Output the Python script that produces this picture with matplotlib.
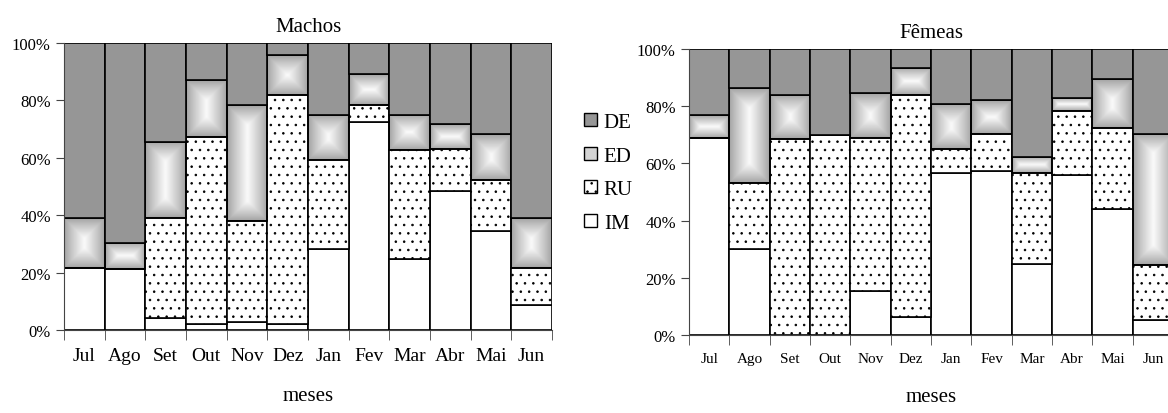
import numpy as np
import matplotlib
matplotlib.use('Agg')
import matplotlib.pyplot as plt
from matplotlib.patches import Patch
from matplotlib.ticker import FuncFormatter

plt.rcParams['font.family'] = ['Liberation Serif', 'DejaVu Serif']
plt.rcParams['hatch.linewidth'] = 0.6
plt.rcParams['hatch.color'] = '#333333'

meses = ['Jul', 'Ago', 'Set', 'Out', 'Nov', 'Dez', 'Jan', 'Fev', 'Mar', 'Abr', 'Mai', 'Jun']
estadios = ['DE', 'ED', 'RU', 'IM']

# percentagens por estadio (IM, RU, ED, DE somam 100)
machos_im = [21.6, 21.1, 4.2, 2.2, 2.8, 2.2, 28.2, 72.5, 24.9, 48.4, 34.6, 8.6]
machos_ru = [0.0, 0.0, 34.7, 65.2, 35.2, 79.7, 31.0, 5.9, 37.7, 14.7, 17.8, 13.0]
machos_ed = [17.3, 9.1, 26.5, 19.7, 40.4, 13.9, 15.8, 10.7, 12.4, 8.6, 15.9, 17.3]
machos_de = [61.1, 69.8, 34.6, 12.9, 21.6, 4.2, 25.0, 10.9, 25.0, 28.3, 31.7, 61.1]

femeas_im = [69.0, 30.0, 0.0, 0.0, 15.3, 6.3, 56.8, 57.4, 24.9, 55.9, 44.2, 5.4]
femeas_ru = [0.0, 23.3, 68.6, 69.9, 53.7, 77.6, 8.2, 13.0, 31.6, 22.5, 28.3, 19.0]
femeas_ed = [7.9, 33.2, 15.4, 0.0, 15.5, 9.6, 15.9, 11.6, 5.9, 4.6, 17.0, 46.0]
femeas_de = [23.1, 13.5, 16.0, 30.1, 15.5, 6.5, 19.1, 18.0, 37.6, 17.0, 10.5, 29.6]

W, H = 11.68, 4.14
fig = plt.figure(figsize=(W, H), dpi=100)

cor_de = '#969696'


def gradiente(ax, x0, y0, larg, alt, w_px, h_px):
    # preenchimento "do centro" tipo Excel: branco no meio, cinza nas bordas
    ny = max(int(h_px), 2)
    nx = max(int(w_px), 2)
    yy = (np.arange(ny) + 0.5) / ny * h_px
    xx = (np.arange(nx) + 0.5) / nx * w_px
    X, Y = np.meshgrid(xx, yy)
    d = np.minimum(np.minimum(X, w_px - X), np.minimum(Y, h_px - Y))
    t = d / (min(w_px, h_px) / 2.0)
    val = 0.63 + 0.35 * np.clip(t, 0, 1) ** 0.9
    ax.imshow(val, extent=(x0, x0 + larg, y0, y0 + alt), origin='lower',
              cmap='gray', vmin=0, vmax=1, aspect='auto',
              interpolation='bilinear', zorder=1)


def grafico(ax, im, ru, ed, de, titulo, fs_x, fs_y):
    x = np.arange(len(meses))
    bb = ax.get_position()
    px_x = bb.width * W * 100 / len(meses)
    px_y = bb.height * H * 100 / 100.0
    base = np.zeros(len(meses))
    ax.bar(x, im, 1.0, bottom=base, color='white', edgecolor='black', linewidth=1.2, zorder=2)
    base = base + np.array(im)
    ax.bar(x, ru, 1.0, bottom=base, color='white', edgecolor='black', hatch='..',
           linewidth=1.2, zorder=2)
    for i in range(len(meses)):
        if ed[i] > 0:
            gradiente(ax, x[i] - 0.5, base[i] + ru[i], 1.0, ed[i], px_x, ed[i] * px_y)
    base = base + np.array(ru)
    ax.bar(x, ed, 1.0, bottom=base, color='none', edgecolor='black', linewidth=1.2, zorder=2)
    base = base + np.array(ed)
    ax.bar(x, de, 1.0, bottom=base, color=cor_de, edgecolor='black', linewidth=1.2, zorder=2)

    ax.set_xlim(-0.5, len(meses) - 0.5)
    ax.set_ylim(0, 100)
    ax.set_yticks(range(0, 101, 20))
    ax.yaxis.set_major_formatter(FuncFormatter(lambda v, p: '%d%%' % v))
    ax.set_xticks(x)
    ax.set_xticklabels(meses, fontsize=fs_x)
    ax.set_xticks(np.arange(-0.5, len(meses)), minor=True)
    ax.tick_params(axis='x', which='major', length=0, pad=12)
    ax.tick_params(axis='x', which='minor', length=7, direction='out', color='#444444')
    ax.tick_params(axis='y', length=6, direction='out', labelsize=fs_y, color='#444444')
    for s in ['top', 'right']:
        ax.spines[s].set_visible(False)
    ax.spines['left'].set_color('#444444')
    ax.spines['bottom'].set_color('#444444')
    ax.set_title(titulo, fontsize=15, pad=9)
    ax.set_xlabel('meses', fontsize=15, labelpad=16)


ax1 = fig.add_axes([0.0548, 0.2005, 0.4178, 0.6932])
grafico(ax1, machos_im, machos_ru, machos_ed, machos_de, 'Machos', 14, 12)

ax2 = fig.add_axes([0.5899, 0.1884, 0.4144, 0.6908])
grafico(ax2, femeas_im, femeas_ru, femeas_ed, femeas_de, 'Fêmeas', 11, 12)

handles = [Patch(facecolor=cor_de, edgecolor='black'),
           Patch(facecolor='#d4d4d4', edgecolor='black'),
           Patch(facecolor='white', edgecolor='black', hatch='..'),
           Patch(facecolor='white', edgecolor='black')]
fig.legend(handles, estadios, loc='center left', bbox_to_anchor=(0.484, 0.58),
           frameon=False, fontsize=15, handlelength=0.6, handleheight=0.6,
           labelspacing=0.7, handletextpad=0.35)

fig.savefig('out.png', dpi=100)
